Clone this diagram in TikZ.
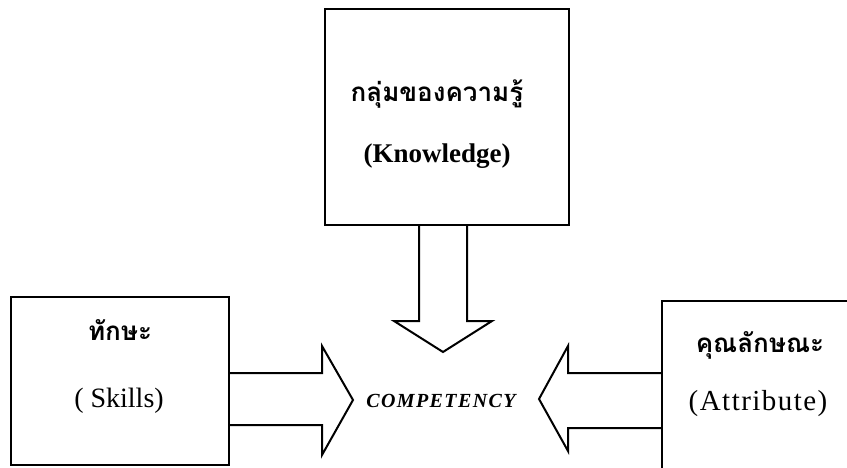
\documentclass[tikz,border=0pt]{standalone}
\usepackage{fontspec}
\setmainfont{Liberation Serif}
\newfontfamily\thai[Script=Thai]{Loma}
\usetikzlibrary{calc}
\tikzset{
  box/.style={draw, line width=2pt, rectangle, inner sep=0pt},
  blk/.style={draw, line width=2pt, line join=miter},
  thaitext/.style={font=\thai\bfseries\fontsize{26}{30}\selectfont, anchor=base, inner sep=0pt},
  lattext/.style={font=\fontsize{28}{32}\selectfont, anchor=base, inner sep=0pt},
  centre/.style={font=\bfseries\itshape\fontsize{20}{24}\selectfont\addfontfeature{LetterSpace=7},
                 anchor=base, inner sep=0pt}
}
\begin{document}
\begin{tikzpicture}[x=1pt,y=-1pt]
  \clip (0,0) rectangle (847,468);
  \fill[white] (0,0) rectangle (847,468);

  % the three boxes
  \node[box, minimum width=244pt, minimum height=216pt] (know) at (447,117) {};
  \node[box, minimum width=218pt, minimum height=168pt] (skills) at (120,381) {};
  \node[box, minimum width=220pt, minimum height=180pt] (attr) at (772,391) {};

  % labels
  \node[thaitext] (knowth) at (437,102) {กลุ่มของความรู้};
  \node[lattext, font=\bfseries\fontsize{27}{30}\selectfont] (knowen) at (437,163) {(Knowledge)};
  \node[thaitext] (skillsth) at (120,340) {ทักษะ};
  \node[lattext] (skillsen) at (119,407) {( Skills)};
  \node[thaitext] (attrth) at (760,352) {คุณลักษณะ};
  \node[lattext, font=\fontsize{29}{32}\selectfont\addfontfeature{LetterSpace=5}] (attren) at (758,410) {(Attribute)};
  \node[centre] (comp) at (441,407) {COMPETENCY};

  % block arrows into the centre
  \draw[blk] (know.south) ++(-28,0) -- ++(0,95) -- ++(-25,0) -- ++(49,31)
             -- ++(49,-31) -- ++(-25,0) -- ++(0,-95);
  \draw[blk] (skills.east) ++(0,-8) -- ++(92,0) -- ++(0,-27) -- ++(31,54)
             -- ++(-31,55) -- ++(0,-30) -- ++(-92,0);
  \draw[blk] (attr.north west) ++(0,73) -- ++(-93,0) -- ++(0,-27) -- ++(-29,53)
             -- ++(29,52) -- ++(0,-23) -- ++(93,0);
\end{tikzpicture}
\end{document}
